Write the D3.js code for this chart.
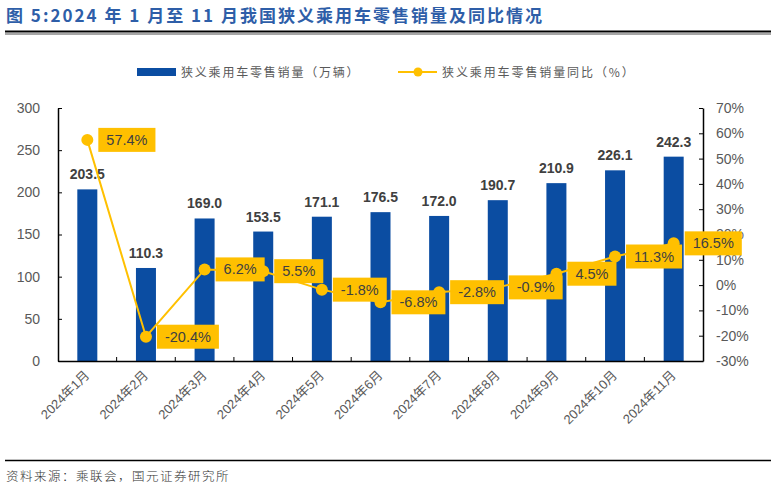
<!DOCTYPE html>
<html><head><meta charset="utf-8">
<script src="https://cdn.jsdelivr.net/npm/d3@7"></script>
<style>body{margin:0;background:#fff}svg{display:block}</style>
</head><body><svg id="c" width="776" height="490"></svg>
<script>
const categories = ["2024年1月","2024年2月","2024年3月","2024年4月","2024年5月","2024年6月","2024年7月","2024年8月","2024年9月","2024年10月","2024年11月"];
const sales = [203.5,110.3,169.0,153.5,171.1,176.5,172.0,190.7,210.9,226.1,242.3];
const yoy = [57.4,-20.4,6.2,5.5,-1.8,-6.8,-2.8,-0.9,4.5,11.3,16.5];
const leftTicks = [0,50,100,150,200,250,300];
const rightTicks = [-30,-20,-10,0,10,20,30,40,50,60,70];

const svg = d3.select("#c");
const F = "'Liberation Sans','Noto Sans CJK SC',sans-serif";
const CJK = "'Noto Sans CJK SC',sans-serif";
const L = 58, R = 703, T = 108, B = 361;
const blue = "#0B4DA2", gold = "#FFC000", grey = "#595959";

// Title
svg.append("text").attr("x",6).attr("y",22).attr("font-family",CJK).attr("font-weight","bold")
  .attr("font-size",17).attr("letter-spacing",2).attr("fill","#2E5EA8").text("图 5:2024 年 1 月至 11 月我国狭义乘用车零售销量及同比情况");
svg.append("line").attr("x1",5).attr("x2",771).attr("y1",31.5).attr("y2",31.5).attr("stroke","#000").attr("stroke-width",2);
svg.append("line").attr("x1",5).attr("x2",771).attr("y1",34).attr("y2",34).attr("stroke","#000").attr("stroke-width",0.7);
// Footer
svg.append("line").attr("x1",5).attr("x2",771).attr("y1",460.5).attr("y2",460.5).attr("stroke","#000").attr("stroke-width",1.6);
svg.append("text").attr("x",6).attr("y",481).attr("font-family",CJK).attr("font-size",12.5).attr("fill","#333")
  .attr("letter-spacing",1.5).attr("font-weight",300).text("资料来源：乘联会，国元证券研究所");

const x = d3.scaleBand().domain(categories).range([L,R]);
const yL = d3.scaleLinear().domain([0,300]).range([B,T]);
const yR = d3.scaleLinear().domain([-30,70]).range([B,T]);

// Legend
svg.append("rect").attr("x",137).attr("y",68).attr("width",39).attr("height",8).attr("fill",blue);
svg.append("text").attr("x",181).attr("y",76.5).attr("font-family",CJK).attr("font-size",12).attr("letter-spacing",1.8).attr("fill",grey).text("狭义乘用车零售销量（万辆）");
svg.append("line").attr("x1",398).attr("x2",437).attr("y1",72).attr("y2",72).attr("stroke",gold).attr("stroke-width",2);
svg.append("circle").attr("cx",418).attr("cy",72).attr("r",4.5).attr("fill",gold);
svg.append("text").attr("x",442).attr("y",76.5).attr("font-family",CJK).attr("font-size",12).attr("letter-spacing",1.9).attr("fill",grey).text("狭义乘用车零售销量同比（%）");

// Bars
const bw = 20;
svg.append("g").selectAll("rect").data(sales).join("rect")
  .attr("x",(d,i)=>x(categories[i])+x.bandwidth()/2-bw/2).attr("width",bw)
  .attr("y",d=>yL(d)).attr("height",d=>B-yL(d)).attr("fill",blue);
svg.append("g").selectAll("text").data(sales).join("text")
  .attr("x",(d,i)=>x(categories[i])+x.bandwidth()/2).attr("y",d=>yL(d)-10)
  .attr("text-anchor","middle").attr("font-family",F).attr("font-weight","bold").attr("font-size",14)
  .attr("fill","#404040").text(d=>d.toFixed(1));

// Axes
const gL = svg.append("g").attr("transform",`translate(${L},0)`)
  .call(d3.axisLeft(yL).tickValues(leftTicks).tickSize(-4).tickPadding(18).tickSizeOuter(0));
const gR = svg.append("g").attr("transform",`translate(${R},0)`)
  .call(d3.axisRight(yR).tickValues(rightTicks).tickSize(-4).tickPadding(13).tickSizeOuter(0).tickFormat(d=>d+"%"));
const gX = svg.append("g").attr("transform",`translate(0,${B})`)
  .call(d3.axisBottom(x).tickSize(0).tickFormat(""));
svg.append("g").selectAll("line").data(categories.slice(1)).join("line")
  .attr("x1",d=>x(d)).attr("x2",d=>x(d)).attr("y1",B).attr("y2",B-4).attr("stroke","#000").attr("stroke-width",1);
[gL,gR,gX].forEach(g=>{
  g.select(".domain").attr("stroke","#000").attr("stroke-width",1.5);
  g.selectAll(".tick line").attr("stroke","#000");
  g.selectAll(".tick text").attr("font-family",F).attr("font-size",14).attr("fill",grey);
});
// X labels rotated
svg.append("g").selectAll("text").data(categories).join("text")
  .attr("transform",d=>`translate(${x(d)+x.bandwidth()/2+3},${B+15}) rotate(-45)`)
  .attr("text-anchor","end").attr("font-family",F).attr("font-size",13).attr("fill",grey).text(d=>d);

// Line
const cx = (i)=>x(categories[i])+x.bandwidth()/2;
svg.append("path").datum(yoy).attr("fill","none").attr("stroke",gold).attr("stroke-width",2)
  .attr("d",d3.line().x((d,i)=>cx(i)).y(d=>yR(d)));
svg.append("g").selectAll("circle").data(yoy).join("circle")
  .attr("cx",(d,i)=>cx(i)).attr("cy",d=>yR(d)).attr("r",6).attr("fill",gold);

// Labels with boxes
const lg = svg.append("g");
yoy.forEach((d,i)=>{
  const g = lg.append("g");
  const t = g.append("text").attr("x",cx(i)+19).attr("y",yR(d)+5).attr("font-family",F).attr("font-size",14.5)
    .attr("fill","#404040").text(d.toFixed(1)+"%");
  const w = t.node().getComputedTextLength();
  g.insert("rect","text").attr("x",cx(i)+11).attr("y",yR(d)-12).attr("width",w+16).attr("height",24).attr("fill",gold);
});
</script></body></html>
